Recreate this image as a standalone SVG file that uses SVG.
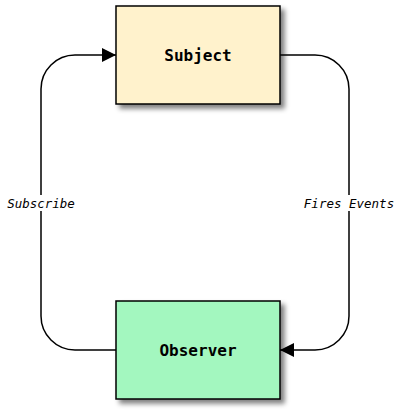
<svg xmlns="http://www.w3.org/2000/svg" width="401" height="413" viewBox="0 0 401 413">
<style>
.node{stroke:#000;stroke-width:1.5;filter:url(#sh)}
.nl{font-family:"DejaVu Sans Mono","Liberation Mono",monospace;font-weight:bold;font-size:16px;text-anchor:middle;dominant-baseline:central;fill:#000}
.edge{fill:none;stroke:#000;stroke-width:1.5}
.el{font-family:"DejaVu Sans Mono","Liberation Mono",monospace;font-style:italic;font-size:12.5px;text-anchor:middle;dominant-baseline:central;fill:#000}
</style>
<defs>
<filter id="sh" x="-10%" y="-10%" width="130%" height="130%">
<feGaussianBlur in="SourceAlpha" stdDeviation="2.5"/>
<feOffset dx="4" dy="4" result="b"/>
<feComponentTransfer><feFuncA type="linear" slope="0.5"/></feComponentTransfer>
<feMerge><feMergeNode/><feMergeNode in="SourceGraphic"/></feMerge>
</filter>
<marker id="arr" viewBox="0 0 10 10" refX="10" refY="5" markerWidth="14" markerHeight="14" markerUnits="userSpaceOnUse" orient="auto">
<path d="M0,0 L10,5 L0,10 Z" fill="#000"/>
</marker>
</defs>
<g id="connectors">
<path class="edge" d="M116,350 H75 A34,34 0 0 1 41,316 V89 A34,34 0 0 1 75,55 H116" marker-end="url(#arr)"/>
<path class="edge" d="M280,55 H315 A34,34 0 0 1 349,89 V316 A34,34 0 0 1 315,350 H280" marker-end="url(#arr)"/>
<rect x="6" y="195" width="71" height="16" fill="#fff"/>
<text class="el" x="41" y="203">Subscribe</text>
<rect x="302" y="195" width="94" height="16" fill="#fff"/>
<text class="el" x="349" y="203">Fires Events</text>
</g>
<g id="subject">
<rect class="node" x="116" y="6" width="164" height="98" fill="#fff2cc"/>
<text class="nl" x="198" y="55">Subject</text>
</g>
<g id="observer">
<rect class="node" x="116" y="301" width="164" height="98" fill="#a3f7bf"/>
<text class="nl" x="198" y="350">Observer</text>
</g>
</svg>
